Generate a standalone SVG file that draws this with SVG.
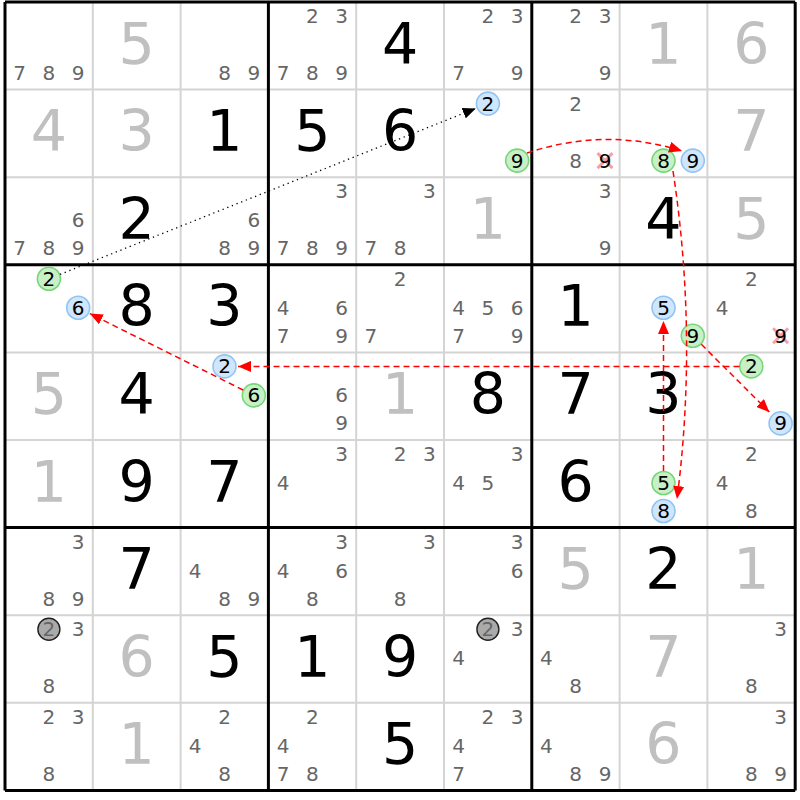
<svg xmlns="http://www.w3.org/2000/svg" width="800" height="800" viewBox="0 0 800 800">
<style>
text{font-family:"DejaVu Sans","Liberation Sans",sans-serif;text-anchor:middle}
.g{font-size:57px;fill:#000}
.s{font-size:57px;fill:#c0c0c0}
.c{font-size:20px;fill:#666}
.k{font-size:20px;fill:#000}
.thin{stroke:#d4d4d4;stroke-width:2}
.thick{stroke:#000;stroke-width:3}
.bl{fill:#d0e6fc;stroke:#90c4f2;stroke-width:1.6}
.gr{fill:#c8f0c8;stroke:#78d678;stroke-width:1.6}
.gy{fill:#aaa;stroke:#222;stroke-width:1.4}
.x{stroke:#f4a0a8;stroke-width:3;fill:none}
.rd{fill:none;stroke:#f00;stroke-width:1.5;stroke-dasharray:6 4}
.dot{fill:none;stroke:#000;stroke-width:1.3;stroke-dasharray:1.3 3.7}
</style>
<defs>
<marker id="ar" markerUnits="userSpaceOnUse" markerWidth="14" markerHeight="11" refX="13" refY="5.5" orient="auto"><path d="M0,0 L13,5.5 L0,11 z" fill="#f00"/></marker>
<marker id="ab" markerUnits="userSpaceOnUse" markerWidth="14" markerHeight="11" refX="13" refY="5.5" orient="auto"><path d="M0,0 L13,5.5 L0,11 z" fill="#000"/></marker>
</defs>
<rect width="800" height="800" fill="#fff"/>
<g id="grid">
<path class="thin" d="M92.8,2V790.4M180.6,2V790.4M356.2,2V790.4M444,2V790.4M619.6,2V790.4M707.4,2V790.4M5,89.6H795.2M5,177.2H795.2M5,352.4H795.2M5,440H795.2M5,615.2H795.2M5,702.8H795.2"/>
<path class="thick" d="M5,2V790.4M268.4,2V790.4M531.8,2V790.4M795.2,2V790.4M5,2H795.2M5,264.8H795.2M5,527.6H795.2M5,790.4H795.2"/>
</g>
<g id="r1c1"><text class="c" x="19.6" y="80">7</text><text class="c" x="48.9" y="80">8</text><text class="c" x="78.2" y="80">9</text></g>
<g id="r1c2"><text class="s" x="136.7" y="63.5">5</text></g>
<g id="r1c3"><text class="c" x="224.5" y="80">8</text><text class="c" x="253.8" y="80">9</text></g>
<g id="r1c4"><text class="c" x="312.3" y="23">2</text><text class="c" x="341.6" y="23">3</text><text class="c" x="283" y="80">7</text><text class="c" x="312.3" y="80">8</text><text class="c" x="341.6" y="80">9</text></g>
<g id="r1c5"><text class="g" x="400.1" y="63.5">4</text></g>
<g id="r1c6"><text class="c" x="487.9" y="23">2</text><text class="c" x="517.2" y="23">3</text><text class="c" x="458.6" y="80">7</text><text class="c" x="517.2" y="80">9</text></g>
<g id="r1c7"><text class="c" x="575.7" y="23">2</text><text class="c" x="605" y="23">3</text><text class="c" x="605" y="80">9</text></g>
<g id="r1c8"><text class="s" x="663.5" y="63.5">1</text></g>
<g id="r1c9"><text class="s" x="751.3" y="63.5">6</text></g>

<g id="r2c1"><text class="s" x="48.9" y="151.1">4</text></g>
<g id="r2c2"><text class="s" x="136.7" y="151.1">3</text></g>
<g id="r2c3"><text class="g" x="224.5" y="151.1">1</text></g>
<g id="r2c4"><text class="g" x="312.3" y="151.1">5</text></g>
<g id="r2c5"><text class="g" x="400.1" y="151.1">6</text></g>
<g id="r2c6"><circle class="bl" cx="487.9" cy="103.6" r="11.5"/><text class="k" x="487.9" y="110.6">2</text><circle class="gr" cx="517.2" cy="160.6" r="11.5"/><text class="k" x="517.2" y="167.6">9</text></g>
<g id="r2c7"><text class="c" x="575.7" y="110.6">2</text><text class="c" x="575.7" y="167.6">8</text><path class="x" d="M597.5,153.1L612.5,168.1M612.5,153.1L597.5,168.1"/><text class="k" x="605" y="167.6">9</text></g>
<g id="r2c8"><circle class="gr" cx="663.5" cy="160.6" r="11.5"/><text class="k" x="663.5" y="167.6">8</text><circle class="bl" cx="692.8" cy="160.6" r="11.5"/><text class="k" x="692.8" y="167.6">9</text></g>
<g id="r2c9"><text class="s" x="751.3" y="151.1">7</text></g>

<g id="r3c1"><text class="c" x="78.2" y="227.2">6</text><text class="c" x="19.6" y="255.2">7</text><text class="c" x="48.9" y="255.2">8</text><text class="c" x="78.2" y="255.2">9</text></g>
<g id="r3c2"><text class="g" x="136.7" y="238.7">2</text></g>
<g id="r3c3"><text class="c" x="253.8" y="227.2">6</text><text class="c" x="224.5" y="255.2">8</text><text class="c" x="253.8" y="255.2">9</text></g>
<g id="r3c4"><text class="c" x="341.6" y="198.2">3</text><text class="c" x="283" y="255.2">7</text><text class="c" x="312.3" y="255.2">8</text><text class="c" x="341.6" y="255.2">9</text></g>
<g id="r3c5"><text class="c" x="429.4" y="198.2">3</text><text class="c" x="370.8" y="255.2">7</text><text class="c" x="400.1" y="255.2">8</text></g>
<g id="r3c6"><text class="s" x="487.9" y="238.7">1</text></g>
<g id="r3c7"><text class="c" x="605" y="198.2">3</text><text class="c" x="605" y="255.2">9</text></g>
<g id="r3c8"><text class="g" x="663.5" y="238.7">4</text></g>
<g id="r3c9"><text class="s" x="751.3" y="238.7">5</text></g>

<g id="r4c1"><circle class="gr" cx="48.9" cy="278.8" r="11.5"/><text class="k" x="48.9" y="285.8">2</text><circle class="bl" cx="78.2" cy="307.8" r="11.5"/><text class="k" x="78.2" y="314.8">6</text></g>
<g id="r4c2"><text class="g" x="136.7" y="326.3">8</text></g>
<g id="r4c3"><text class="g" x="224.5" y="326.3">3</text></g>
<g id="r4c4"><text class="c" x="283" y="314.8">4</text><text class="c" x="341.6" y="314.8">6</text><text class="c" x="283" y="342.8">7</text><text class="c" x="341.6" y="342.8">9</text></g>
<g id="r4c5"><text class="c" x="400.1" y="285.8">2</text><text class="c" x="370.8" y="342.8">7</text></g>
<g id="r4c6"><text class="c" x="458.6" y="314.8">4</text><text class="c" x="487.9" y="314.8">5</text><text class="c" x="517.2" y="314.8">6</text><text class="c" x="458.6" y="342.8">7</text><text class="c" x="517.2" y="342.8">9</text></g>
<g id="r4c7"><text class="g" x="575.7" y="326.3">1</text></g>
<g id="r4c8"><circle class="bl" cx="663.5" cy="307.8" r="11.5"/><text class="k" x="663.5" y="314.8">5</text><circle class="gr" cx="692.8" cy="335.8" r="11.5"/><text class="k" x="692.8" y="342.8">9</text></g>
<g id="r4c9"><text class="c" x="751.3" y="285.8">2</text><text class="c" x="722" y="314.8">4</text><path class="x" d="M773.1,328.3L788.1,343.3M788.1,328.3L773.1,343.3"/><text class="k" x="780.6" y="342.8">9</text></g>

<g id="r5c1"><text class="s" x="48.9" y="413.9">5</text></g>
<g id="r5c2"><text class="g" x="136.7" y="413.9">4</text></g>
<g id="r5c3"><circle class="bl" cx="224.5" cy="366.4" r="11.5"/><text class="k" x="224.5" y="373.4">2</text><circle class="gr" cx="253.8" cy="395.4" r="11.5"/><text class="k" x="253.8" y="402.4">6</text></g>
<g id="r5c4"><text class="c" x="341.6" y="402.4">6</text><text class="c" x="341.6" y="430.4">9</text></g>
<g id="r5c5"><text class="s" x="400.1" y="413.9">1</text></g>
<g id="r5c6"><text class="g" x="487.9" y="413.9">8</text></g>
<g id="r5c7"><text class="g" x="575.7" y="413.9">7</text></g>
<g id="r5c8"><text class="g" x="663.5" y="413.9">3</text></g>
<g id="r5c9"><circle class="gr" cx="751.3" cy="366.4" r="11.5"/><text class="k" x="751.3" y="373.4">2</text><circle class="bl" cx="780.6" cy="423.4" r="11.5"/><text class="k" x="780.6" y="430.4">9</text></g>

<g id="r6c1"><text class="s" x="48.9" y="501.5">1</text></g>
<g id="r6c2"><text class="g" x="136.7" y="501.5">9</text></g>
<g id="r6c3"><text class="g" x="224.5" y="501.5">7</text></g>
<g id="r6c4"><text class="c" x="341.6" y="461">3</text><text class="c" x="283" y="490">4</text></g>
<g id="r6c5"><text class="c" x="400.1" y="461">2</text><text class="c" x="429.4" y="461">3</text></g>
<g id="r6c6"><text class="c" x="517.2" y="461">3</text><text class="c" x="458.6" y="490">4</text><text class="c" x="487.9" y="490">5</text></g>
<g id="r6c7"><text class="g" x="575.7" y="501.5">6</text></g>
<g id="r6c8"><circle class="gr" cx="663.5" cy="483" r="11.5"/><text class="k" x="663.5" y="490">5</text><circle class="bl" cx="663.5" cy="511" r="11.5"/><text class="k" x="663.5" y="518">8</text></g>
<g id="r6c9"><text class="c" x="751.3" y="461">2</text><text class="c" x="722" y="490">4</text><text class="c" x="751.3" y="518">8</text></g>

<g id="r7c1"><text class="c" x="78.2" y="548.6">3</text><text class="c" x="48.9" y="605.6">8</text><text class="c" x="78.2" y="605.6">9</text></g>
<g id="r7c2"><text class="g" x="136.7" y="589.1">7</text></g>
<g id="r7c3"><text class="c" x="195.2" y="577.6">4</text><text class="c" x="224.5" y="605.6">8</text><text class="c" x="253.8" y="605.6">9</text></g>
<g id="r7c4"><text class="c" x="341.6" y="548.6">3</text><text class="c" x="283" y="577.6">4</text><text class="c" x="341.6" y="577.6">6</text><text class="c" x="312.3" y="605.6">8</text></g>
<g id="r7c5"><text class="c" x="429.4" y="548.6">3</text><text class="c" x="400.1" y="605.6">8</text></g>
<g id="r7c6"><text class="c" x="517.2" y="548.6">3</text><text class="c" x="517.2" y="577.6">6</text></g>
<g id="r7c7"><text class="s" x="575.7" y="589.1">5</text></g>
<g id="r7c8"><text class="g" x="663.5" y="589.1">2</text></g>
<g id="r7c9"><text class="s" x="751.3" y="589.1">1</text></g>

<g id="r8c1"><circle class="gy" cx="48.9" cy="629.2" r="11"/><text class="c" x="48.9" y="636.2">2</text><text class="c" x="78.2" y="636.2">3</text><text class="c" x="48.9" y="693.2">8</text></g>
<g id="r8c2"><text class="s" x="136.7" y="676.7">6</text></g>
<g id="r8c3"><text class="g" x="224.5" y="676.7">5</text></g>
<g id="r8c4"><text class="g" x="312.3" y="676.7">1</text></g>
<g id="r8c5"><text class="g" x="400.1" y="676.7">9</text></g>
<g id="r8c6"><circle class="gy" cx="487.9" cy="629.2" r="11"/><text class="c" x="487.9" y="636.2">2</text><text class="c" x="517.2" y="636.2">3</text><text class="c" x="458.6" y="665.2">4</text></g>
<g id="r8c7"><text class="c" x="546.4" y="665.2">4</text><text class="c" x="575.7" y="693.2">8</text></g>
<g id="r8c8"><text class="s" x="663.5" y="676.7">7</text></g>
<g id="r8c9"><text class="c" x="780.6" y="636.2">3</text><text class="c" x="751.3" y="693.2">8</text></g>

<g id="r9c1"><text class="c" x="48.9" y="723.8">2</text><text class="c" x="78.2" y="723.8">3</text><text class="c" x="48.9" y="780.8">8</text></g>
<g id="r9c2"><text class="s" x="136.7" y="764.3">1</text></g>
<g id="r9c3"><text class="c" x="224.5" y="723.8">2</text><text class="c" x="195.2" y="752.8">4</text><text class="c" x="224.5" y="780.8">8</text></g>
<g id="r9c4"><text class="c" x="312.3" y="723.8">2</text><text class="c" x="283" y="752.8">4</text><text class="c" x="283" y="780.8">7</text><text class="c" x="312.3" y="780.8">8</text></g>
<g id="r9c5"><text class="g" x="400.1" y="764.3">5</text></g>
<g id="r9c6"><text class="c" x="487.9" y="723.8">2</text><text class="c" x="517.2" y="723.8">3</text><text class="c" x="458.6" y="752.8">4</text><text class="c" x="458.6" y="780.8">7</text></g>
<g id="r9c7"><text class="c" x="546.4" y="752.8">4</text><text class="c" x="575.7" y="780.8">8</text><text class="c" x="605" y="780.8">9</text></g>
<g id="r9c8"><text class="s" x="663.5" y="764.3">6</text></g>
<g id="r9c9"><text class="c" x="780.6" y="723.8">3</text><text class="c" x="751.3" y="780.8">8</text><text class="c" x="780.6" y="780.8">9</text></g>

<g id="connectors">
<path class="dot" d="M60,274.4L475.8,108.4" marker-end="url(#ab)"/>
<path class="rd" d="M527,153Q605,127 682,151" marker-end="url(#ar)"/>
<path class="rd" d="M673,171Q698,336 677,499" marker-end="url(#ar)"/>
<path class="rd" d="M739.5,366.4L238,366.4" marker-end="url(#ar)"/>
<path class="rd" d="M243.1,390L89.8,313.6" marker-end="url(#ar)"/>
<path class="rd" d="M663.5,471L663.5,321" marker-end="url(#ar)"/>
<path class="rd" d="M701.3,344.3L769.3,412.1" marker-end="url(#ar)"/>
</g>
</svg>
